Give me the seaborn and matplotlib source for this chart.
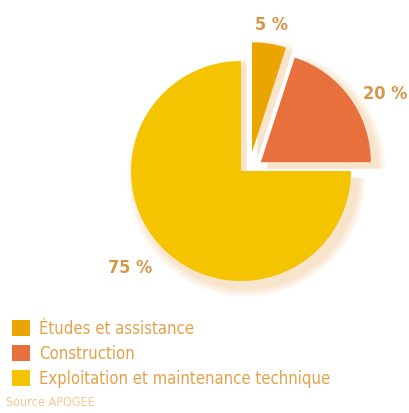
import matplotlib
matplotlib.use("Agg")
import matplotlib.pyplot as plt
import numpy as np
import seaborn as sns
from matplotlib.patches import Wedge, Patch

sns.set_theme(style="white")
plt.rcParams['font.family'] = ['DejaVu Sans']
plt.rcParams['font.stretch'] = 'condensed'

categories = ["Études et assistance", "Construction",
              "Exploitation et maintenance technique"]
shares = [5, 20, 75]
share_labels = ["5 %", "20 %", "75 %"]
source_note = "Source APOGEE"

colors = ["#EBA500", "#E8703C", "#F5C400"]
text_color = "#E3A24A"
label_color = "#D89447"

W, H, DPI = 410, 413, 100
R_PX = 110.0
cx_px, cy_px = 241, 171          # pie centre, pixels from top-left

fig = plt.figure(figsize=(W / DPI, H / DPI), dpi=DPI, facecolor="white")
ax = fig.add_axes([0, 0, 1, 1])

# translation of each slice out of the pie (radius units)
shifts = [(0.10, 0.17), (0.18, 0.08), (0.0, 0.0)]

wedges, _ = ax.pie(shares, colors=colors, startangle=90, counterclock=False,
                   radius=1.0, center=(0, 0), wedgeprops=dict(linewidth=0))
for w, (dx, dy) in zip(wedges, shifts):
    w.set_center((dx, dy))
    w.set_zorder(3)

ax.set_xlim(-cx_px / R_PX, (W - cx_px) / R_PX)
ax.set_ylim(-(H - cy_px) / R_PX, cy_px / R_PX)
ax.set_aspect("equal")
ax.axis("off")

# soft warm shadow below and to the right of every slice
for w, (dx, dy) in zip(wedges, shifts):
    for k in range(7):
        grow = 0.012 * (k + 1)
        sh = Wedge((dx + 0.05, dy - 0.06), 1.0 + grow, w.theta1, w.theta2,
                   facecolor="#F0AE62", edgecolor="none", alpha=0.05, zorder=1)
        ax.add_patch(sh)

# percentage labels around the slices
label_dist = [1.33, 1.40, 1.34]
label_extra = [(-0.03, -0.155), (0.0, -0.205), (-0.06, 0.065)]
for w, (dx, dy), d, (ex, ey), txt in zip(wedges, shifts, label_dist,
                                         label_extra, share_labels):
    mid = np.deg2rad((w.theta1 + w.theta2) / 2)
    x = dx + d * np.cos(mid) + ex
    y = dy + d * np.sin(mid) + ey
    ax.text(x, y, txt, ha="center", va="center", fontsize=13,
            fontweight="bold", color=label_color, zorder=4)

handles = [Patch(facecolor=c, edgecolor="none") for c in colors]
leg = fig.legend(handles, categories, loc="upper left",
                 bbox_to_anchor=(12 / W, 1 - 320 / H), frameon=False,
                 fontsize=12, handlelength=1.1, handleheight=1.1,
                 handletextpad=0.5, labelspacing=0.42, borderaxespad=0,
                 borderpad=0)
for t in leg.get_texts():
    t.set_color(text_color)

fig.text(6 / W, 1 - 403 / H, source_note, fontsize=9, color="#F3C98F",
         ha="left", va="center")

fig.savefig("out.png", dpi=DPI, facecolor="white")
